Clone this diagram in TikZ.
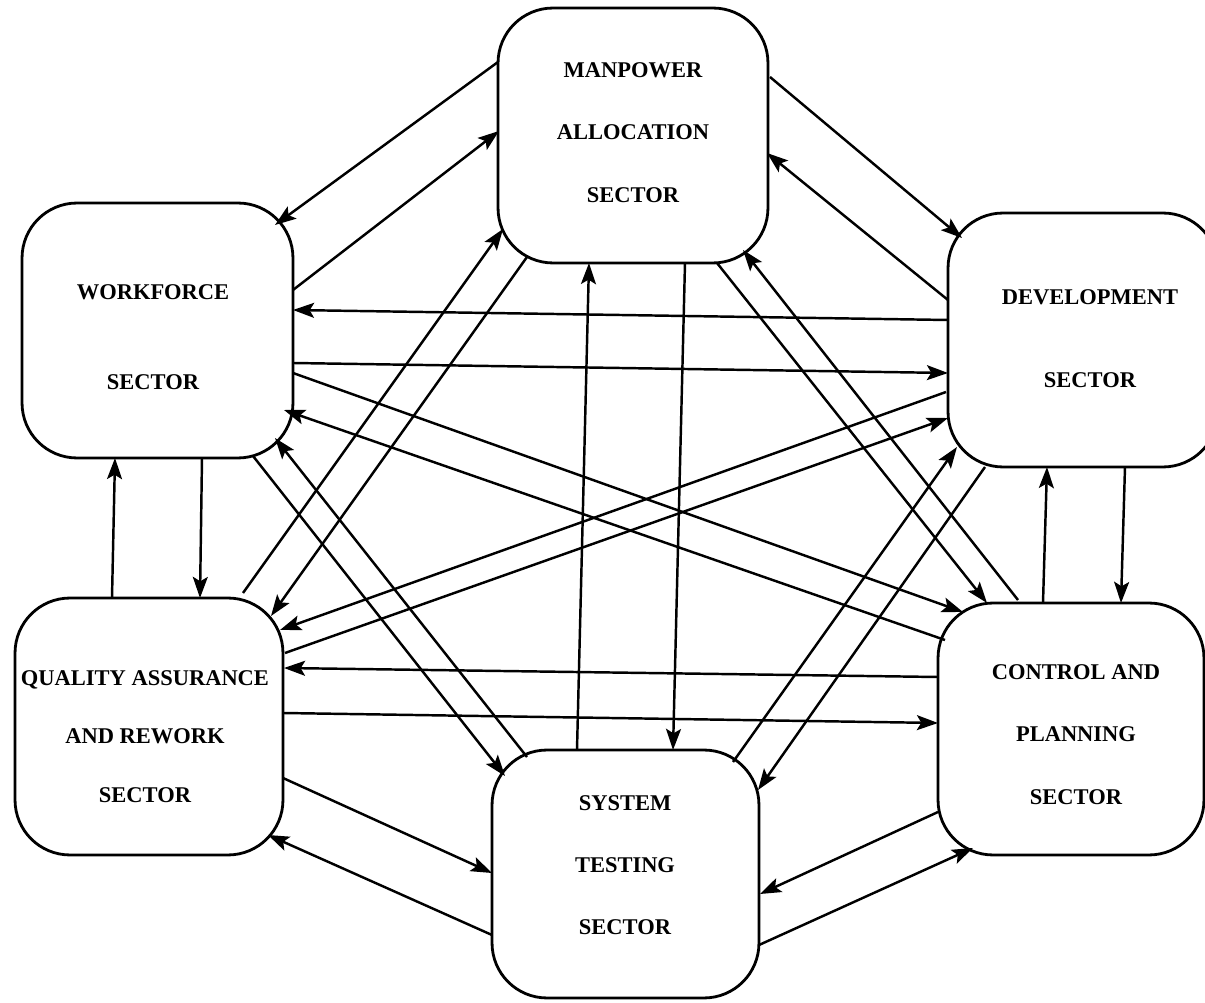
\documentclass[tikz,border=0pt]{standalone}
\usepackage{fontspec}
\setmainfont{Liberation Serif}
\usetikzlibrary{arrows.meta}
\begin{document}
\begin{tikzpicture}[x=0.02cm,y=-0.02cm,
  sector/.style={draw, line width=1.6pt, rounded corners=1.1cm, inner sep=0pt, outer sep=0pt},
  lbl/.style={align=center, font=\bfseries\fontsize{12.8pt}{#1}\selectfont, inner sep=0pt},
  arr/.style={line width=1.4pt, -{Stealth[length=12pt,width=8.5pt,inset=2.5pt]}}]
\useasboundingbox (0,0) rectangle (1205,1003);
\clip (0,0) rectangle (1205,1003);

% boxes
\node[sector, minimum width=5.4cm,  minimum height=5.1cm]  (man)  at (633,135.5) {};
\node[sector, minimum width=5.42cm, minimum height=5.1cm]  (work) at (157.5,330.5) {};
\node[sector, minimum width=5.4cm,  minimum height=5.08cm] (dev)  at (1083,340) {};
\node[sector, minimum width=5.36cm, minimum height=5.14cm] (qa)   at (149,726.5) {};
\node[sector, minimum width=5.32cm, minimum height=5.04cm] (ctl)  at (1071,729) {};
\node[sector, minimum width=5.34cm, minimum height=4.96cm] (sys)  at (625.5,874) {};

% labels
\node[lbl=35.5pt] (man-t)  at (633,132.5) {MANPOWER\\ALLOCATION\\SECTOR};
\node[lbl=51.2pt] (work-t) at (153,337) {WORKFORCE\\SECTOR};
\node[lbl=47.2pt] (dev-t)  at (1090,338.5) {DEVELOPMENT\\SECTOR};
\node[lbl=33.3pt] (qa-t)   at (145,736.5) {QUALITY ASSURANCE\\AND REWORK\\SECTOR};
\node[lbl=35.5pt] (ctl-t)  at (1076,734.5) {CONTROL AND\\PLANNING\\SECTOR};
\node[lbl=35.3pt] (sys-t)  at (625,865) {SYSTEM\\TESTING\\SECTOR};

% connectors
% MAN <-> WORK
\draw[arr] ([shift={(-135,-73.5)}]man.center) -- ([shift={(117.5,-105.5)}]work.center);
\draw[arr] ([shift={(135.5,-40.5)}]work.center) -- ([shift={(-134,-4.5)}]man.center);
% MAN <-> DEV
\draw[arr] ([shift={(137,-58.5)}]man.center) -- ([shift={(-121,-102)}]dev.center);
\draw[arr] ([shift={(-135,-40)}]dev.center) -- ([shift={(134,17.5)}]man.center);
% DEV <-> WORK
\draw[arr] ([shift={(-135,-20)}]dev.center) -- ([shift={(135.5,-20.5)}]work.center);
\draw[arr] ([shift={(135.5,32.5)}]work.center) -- ([shift={(-135,33)}]dev.center);
% WORK <-> CTL
\draw[arr] ([shift={(135.5,42.5)}]work.center) -- ([shift={(-108,-117)}]ctl.center);
\draw[arr] ([shift={(-126,-89)}]ctl.center) -- ([shift={(126.5,79.5)}]work.center);
% WORK <-> SYS
\draw[arr] ([shift={(95.5,125.5)}]work.center) -- ([shift={(-120.5,-98)}]sys.center);
\draw[arr] ([shift={(-98.5,-117)}]sys.center) -- ([shift={(117.5,107.5)}]work.center);
% QA <-> WORK
\draw[arr] ([shift={(-37,-128.5)}]qa.center) -- ([shift={(-42.5,127.5)}]work.center);
\draw[arr] ([shift={(44.5,127.5)}]work.center) -- ([shift={(51,-128.5)}]qa.center);
% QA <-> MAN
\draw[arr] ([shift={(94,-133.5)}]qa.center) -- ([shift={(-130,93.5)}]man.center);
\draw[arr] ([shift={(-106,121.5)}]man.center) -- ([shift={(122,-110.5)}]qa.center);
% DEV <-> QA
\draw[arr] ([shift={(-137,52)}]dev.center) -- ([shift={(131,-96.5)}]qa.center);
\draw[arr] ([shift={(136,-73.5)}]qa.center) -- ([shift={(-135,78)}]dev.center);
% CTL <-> QA
\draw[arr] ([shift={(-133,-52)}]ctl.center) -- ([shift={(135,-58.5)}]qa.center);
\draw[arr] ([shift={(134,-13.5)}]qa.center) -- ([shift={(-133,-6)}]ctl.center);
% QA <-> SYS
\draw[arr] ([shift={(134,51.5)}]qa.center) -- ([shift={(-133.5,-1)}]sys.center);
\draw[arr] ([shift={(-133.5,61)}]sys.center) -- ([shift={(119,108.5)}]qa.center);
% SYS <-> MAN
\draw[arr] ([shift={(-48.5,-124)}]sys.center) -- ([shift={(-44,127.5)}]man.center);
\draw[arr] ([shift={(52,127.5)}]man.center) -- ([shift={(47.5,-124)}]sys.center);
% MAN <-> CTL
\draw[arr] ([shift={(84,127.5)}]man.center) -- ([shift={(-84,-126)}]ctl.center);
\draw[arr] ([shift={(-53,-129)}]ctl.center) -- ([shift={(110,114.5)}]man.center);
% DEV <-> SYS
\draw[arr] ([shift={(-98,127)}]dev.center) -- ([shift={(132.5,-84)}]sys.center);
\draw[arr] ([shift={(107.5,-112)}]sys.center) -- ([shift={(-126,107)}]dev.center);
% CTL <-> DEV
\draw[arr] ([shift={(-28,-126)}]ctl.center) -- ([shift={(-36,127)}]dev.center);
\draw[arr] ([shift={(42,127)}]dev.center) -- ([shift={(50,-126)}]ctl.center);
% CTL <-> SYS
\draw[arr] ([shift={(-133,83)}]ctl.center) -- ([shift={(134.5,20)}]sys.center);
\draw[arr] ([shift={(133.5,71)}]sys.center) -- ([shift={(-98,119)}]ctl.center);
\end{tikzpicture}
\end{document}
